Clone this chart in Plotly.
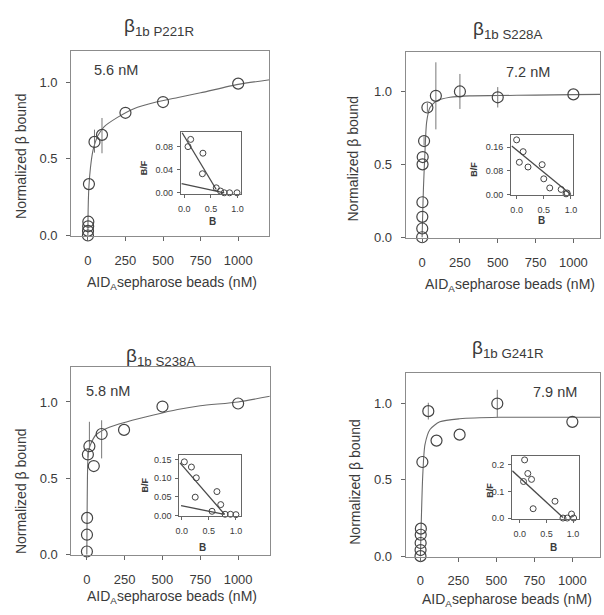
import plotly.graph_objects as go

W, H = 604, 615

# ---------------- data ----------------
titles = ["P221R", "S228A", "S238A", "G241R"]
kd_labels = ["5.6 nM", "7.2 nM", "5.8 nM", "7.9 nM"]

# panel 1
p1_x = [0.5, 1, 2, 3, 7, 44, 94, 250, 500, 1000]
p1_y = [0.0, 0.03, 0.06, 0.09, 0.335, 0.61, 0.656, 0.80, 0.87, 0.99]
p1_eplus = [0, 0, 0, 0, 0, 0.08, 0.11, 0, 0, 0]
p1_eminus = [0, 0, 0, 0, 0, 0.07, 0.12, 0, 0, 0]
c1_x = [0, 1, 3, 7, 17, 33, 50, 66, 109, 197, 306, 455, 600, 750, 1000, 1210]
c1_y = [0, 0.12, 0.22, 0.32, 0.44, 0.55, 0.61, 0.65, 0.71, 0.77, 0.827, 0.87, 0.90, 0.93, 0.985, 1.015]

# panel 2
p2_x = [0.5, 1, 1.5, 2, 3, 4, 13, 35, 91, 250, 500, 1000]
p2_y = [0.0, 0.06, 0.14, 0.24, 0.5, 0.55, 0.66, 0.89, 0.97, 1.0, 0.96, 0.98]
p2_eplus = [0, 0, 0, 0, 0, 0, 0.03, 0.03, 0.23, 0.12, 0.07, 0]
p2_eminus = [0, 0, 0, 0, 0, 0, 0.03, 0.03, 0.23, 0.12, 0.07, 0]
c2_x = [0, 3, 9, 20, 30, 52, 96, 185, 313, 500, 750, 1000, 1180]
c2_y = [0, 0.12, 0.34, 0.61, 0.79, 0.89, 0.935, 0.96, 0.97, 0.972, 0.975, 0.978, 0.98]

# panel 3
p3_x = [0.5, 1, 2, 7, 17, 46, 98, 246, 500, 1000]
p3_y = [0.02, 0.13, 0.24, 0.656, 0.71, 0.58, 0.79, 0.817, 0.97, 0.99]
p3_eplus = [0, 0, 0, 0.02, 0.16, 0, 0.09, 0, 0, 0]
p3_eminus = [0, 0, 0, 0.02, 0.02, 0, 0.16, 0, 0, 0]
c3_x = [0, 2, 4, 7, 12, 24, 61, 137, 267, 441, 600, 750, 1000, 1210]
c3_y = [0, 0.28, 0.5, 0.62, 0.68, 0.72, 0.785, 0.83, 0.87, 0.914, 0.95, 0.975, 1.0, 1.037]

# panel 4
p4_x = [0.5, 1, 1.5, 2, 3, 13, 52, 106, 258, 506, 1000]
p4_y = [0.0, 0.04, 0.086, 0.14, 0.18, 0.617, 0.95, 0.757, 0.796, 1.0, 0.88]
p4_eplus = [0, 0, 0, 0, 0, 0, 0.055, 0, 0, 0.09, 0]
p4_eminus = [0, 0, 0, 0, 0, 0, 0.055, 0, 0, 0.09, 0]
c4_x = [0, 5, 15, 30, 63, 128, 258, 517, 750, 1000, 1185]
c4_y = [0, 0.2, 0.52, 0.73, 0.83, 0.88, 0.90, 0.91, 0.91, 0.91, 0.91]

# insets (Scatchard: B vs B/F)
i1_x = [0.07, 0.12, 0.35, 0.34, 0.60, 0.68, 0.75, 0.85, 0.99]
i1_y = [0.080, 0.0925, 0.0686, 0.033, 0.0086, 0.003, 0.0, 0.0, 0.0]
i1_l1x = [-0.04, 0.60]
i1_l1y = [0.104, 0.0057]
i1_l2x = [-0.05, 0.75]
i1_l2y = [0.016, 0.0]

i2_x = [0.0, 0.12, 0.05, 0.21, 0.47, 0.50, 0.61, 0.82, 0.91, 0.93]
i2_y = [0.185, 0.145, 0.109, 0.093, 0.101, 0.053, 0.022, 0.017, 0.002, 0.005]
i2_l1x = [-0.09, 1.0]
i2_l1y = [0.164, 0.0]

i3_x = [0.05, 0.18, 0.27, 0.25, 0.65, 0.72, 0.56, 0.80, 0.90, 1.0]
i3_y = [0.144, 0.13, 0.101, 0.049, 0.064, 0.029, 0.011, 0.003, 0.003, 0.002]
i3_l1x = [-0.03, 0.79]
i3_l1y = [0.141, 0.003]
i3_l2x = [-0.01, 0.79]
i3_l2y = [0.026, 0.003]

i4_x = [0.09, 0.07, 0.15, 0.22, 0.25, 0.66, 0.81, 0.89, 0.97, 1.01]
i4_y = [0.218, 0.137, 0.167, 0.145, 0.035, 0.063, 0.0, 0.0, 0.015, 0.0]
i4_l1x = [-0.14, 0.81]
i4_l1y = [0.177, 0.002]

x_ticks = [0, 250, 500, 750, 1000]
y_ticks = [0.0, 0.5, 1.0]

# ---------------- helpers ----------------
def px(x):
    return x / W

def py(y):
    return 1 - y / H

FONT = "Liberation Sans, Arial, sans-serif"
TXT = "#3a3a3a"
MK = "#444444"

fig = go.Figure()

mains = [
    dict(box=(68, 269, 52, 239), xr=[-111.6, 1208], yr=[-0.005, 1.2]),
    dict(box=(407, 604, 53, 240.7), xr=[-109, 1176], yr=[-0.005, 1.268]),
    dict(box=(68.3, 269.3, 371.7, 561.7), xr=[-102, 1209], yr=[-0.005, 1.226]),
    dict(box=(407, 604, 377.3, 563.3), xr=[-97.4, 1182], yr=[-0.005, 1.2]),
]
insets = [
    dict(box=(179.3, 240, 133.3, 196), xr=[-0.063, 1.061], yr=[-0.0017, 0.1057],
         yt=[0.0, 0.04, 0.08], fmt=".2f"),
    dict(box=(514, 577, 136.7, 197.7), xr=[-0.10, 1.045], yr=[-0.0034, 0.201],
         yt=[0.0, 0.08, 0.16], fmt=".2f"),
    dict(box=(177.7, 240, 460, 521.7), xr=[-0.042, 1.09], yr=[-0.001, 0.163],
         yt=[0.0, 0.05, 0.10, 0.15], fmt=".2f"),
    dict(box=(515, 582.7, 461.7, 525), xr=[-0.143, 1.11], yr=[-0.0037, 0.231],
         yt=[0.0, 0.1, 0.2], fmt=".1f"),
]

pts = [(p1_x, p1_y, p1_eplus, p1_eminus, c1_x, c1_y),
       (p2_x, p2_y, p2_eplus, p2_eminus, c2_x, c2_y),
       (p3_x, p3_y, p3_eplus, p3_eminus, c3_x, c3_y),
       (p4_x, p4_y, p4_eplus, p4_eminus, c4_x, c4_y)]

ins_data = [
    (i1_x, i1_y, [(i1_l1x, i1_l1y), (i1_l2x, i1_l2y)]),
    (i2_x, i2_y, [(i2_l1x, i2_l1y)]),
    (i3_x, i3_y, [(i3_l1x, i3_l1y), (i3_l2x, i3_l2y)]),
    (i4_x, i4_y, [(i4_l1x, i4_l1y)]),
]

layout = {}
for k in range(4):
    mi = k + 1
    ii = k + 5
    mxn = "x" if mi == 1 else f"x{mi}"
    myn = "y" if mi == 1 else f"y{mi}"
    ixn = f"x{ii}"
    iyn = f"y{ii}"

    px_, py_, ep, em, cx, cy = pts[k]
    fig.add_trace(go.Scatter(x=cx, y=cy, mode="lines",
                             line=dict(color="#6a6a6a", width=1.1, shape="spline", smoothing=0.7),
                             xaxis=mxn, yaxis=myn, showlegend=False, hoverinfo="skip"))
    fig.add_trace(go.Scatter(x=px_, y=py_, mode="markers",
                             marker=dict(symbol="circle-open", size=11, color=MK,
                                         line=dict(width=1.2, color=MK)),
                             error_y=dict(type="data", symmetric=False, array=ep,
                                          arrayminus=em, width=0, thickness=1, color="#777777"),
                             xaxis=mxn, yaxis=myn, showlegend=False, cliponaxis=False))

    ixs, iys, lines = ins_data[k]
    for lx, ly in lines:
        fig.add_trace(go.Scatter(x=lx, y=ly, mode="lines",
                                 line=dict(color="#4a4a4a", width=1.3),
                                 xaxis=ixn, yaxis=iyn, showlegend=False, hoverinfo="skip"))
    fig.add_trace(go.Scatter(x=ixs, y=iys, mode="markers",
                             marker=dict(symbol="circle-open", size=6, color=MK,
                                         line=dict(width=1, color=MK)),
                             xaxis=ixn, yaxis=iyn, showlegend=False, cliponaxis=False))

    m = mains[k]
    l, r, t, b = m["box"]
    common = dict(showline=True, mirror=True, linecolor="#8c8c8c", linewidth=1,
                  ticks="outside", ticklen=4, tickcolor="#666666", tickwidth=1,
                  showgrid=False, zeroline=False,
                  tickfont=dict(family=FONT, size=13, color=TXT))
    layout["xaxis" if mi == 1 else f"xaxis{mi}"] = dict(
        common, domain=[px(l), px(r)], range=m["xr"], anchor=myn,
        tickvals=x_ticks, ticktext=[str(v) for v in x_ticks], ticklabelstandoff=8)
    layout["yaxis" if mi == 1 else f"yaxis{mi}"] = dict(
        common, domain=[py(b), py(t)], range=m["yr"], anchor=mxn,
        tickvals=y_ticks, tickformat=".1f", ticklabelstandoff=6)

    n = insets[k]
    l2, r2, t2, b2 = n["box"]
    icommon = dict(showline=True, mirror=True, linecolor="#666666", linewidth=1,
                   ticks="outside", ticklen=3, tickcolor="#666666", tickwidth=1,
                   showgrid=False, zeroline=False,
                   tickfont=dict(family=FONT, size=9, color=TXT))
    layout[f"xaxis{ii}"] = dict(icommon, domain=[px(l2), px(r2)], range=n["xr"],
                                anchor=iyn, tickvals=[0.0, 0.5, 1.0], tickformat=".1f",
                                ticklabelstandoff=3)
    layout[f"yaxis{ii}"] = dict(icommon, domain=[py(b2), py(t2)], range=n["yr"],
                                anchor=ixn, tickvals=n["yt"], tickformat=n["fmt"],
                                ticklabelstandoff=2)

annotations = []

def ann(text, x, y, size, angle=0, color=TXT):
    annotations.append(dict(text=text, x=px(x), y=py(y), xref="paper", yref="paper",
                            showarrow=False, textangle=angle, xanchor="center",
                            yanchor="middle",
                            font=dict(family=FONT, size=size, color=color)))

title_pos = [(157, 27), (510, 30), (159, 361), (511, 353)]
for k in range(4):
    ann(f"β<sub>1b {titles[k]}</sub>", title_pos[k][0], title_pos[k][1], 19)

kd_pos = [(113, 71), (531, 73), (105, 395), (558, 397)]
for k in range(4):
    ann(kd_labels[k], kd_pos[k][0], kd_pos[k][1], 14.5)

ytitle_pos = [(17, 158), (354, 160), (18, 497), (356, 487)]
xtitle_pos = [(170, 286), (513, 288), (170, 604), (510, 607)]
for k in range(4):
    ann("Normalized β bound", ytitle_pos[k][0], ytitle_pos[k][1], 14, angle=-90)
    ann("AID<sub>A</sub>sepharose beads (nM)", xtitle_pos[k][0], xtitle_pos[k][1], 14)

bf_pos = [(142, 170), (476, 171), (143, 491), (493, 496)]
b_pos = [(211, 224), (545, 223), (201, 554), (557, 554)]
for k in range(4):
    ann("<b>B/F</b>", bf_pos[k][0], bf_pos[k][1], 9, angle=-90)
    ann("<b>B</b>", b_pos[k][0], b_pos[k][1], 10)

fig.update_layout(
    width=W, height=H,
    margin=dict(l=0, r=0, t=0, b=0),
    paper_bgcolor="white",
    plot_bgcolor="white",
    showlegend=False,
    annotations=annotations,
    font=dict(family=FONT, color=TXT),
    **layout,
)

fig.write_html("out.html")
